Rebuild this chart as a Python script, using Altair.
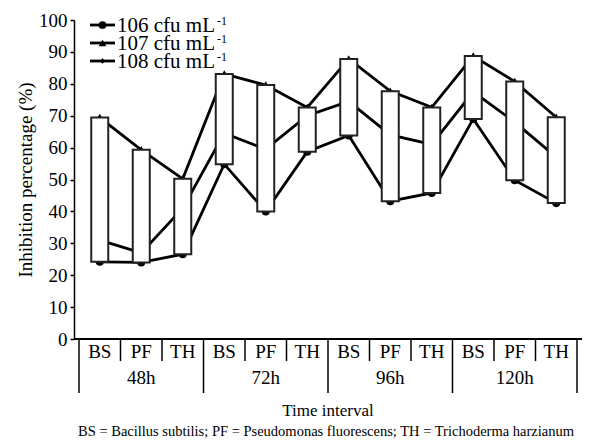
import altair as alt
import pandas as pd

# ---- data ----
agents = ["BS", "PF", "TH"] * 4
times = ["48h", "72h", "96h", "120h"]
series_names = ["106 cfu mL", "107 cfu mL", "108 cfu mL"]
s106 = [24.2, 24.0, 26.6, 54.8, 40.0, 58.7, 63.8, 43.2, 45.8, 69.0, 49.8, 42.6]   # bottom, circle
s107 = [69.4, 59.3, 50.2, 83.1, 79.6, 72.6, 87.8, 77.7, 72.6, 88.7, 80.7, 69.5]   # top, triangle
s108 = [31.0, 27.0, 41.0, 64.5, 59.5, 70.0, 74.5, 64.0, 61.0, 77.5, 68.0, 57.0]   # middle
y_ticks = [0, 10, 20, 30, 40, 50, 60, 70, 80, 90, 100]

FONT = "Liberation Serif"
W, H = 508, 319

idx = list(range(len(agents)))
df = pd.DataFrame({"idx": idx, "agent": agents,
                   "s106": s106, "s107": s107, "s108": s108})
long = pd.concat([
    pd.DataFrame({"idx": idx, "v": s106, "series": series_names[0]}),
    pd.DataFrame({"idx": idx, "v": s107, "series": series_names[1]}),
    pd.DataFrame({"idx": idx, "v": s108, "series": series_names[2]}),
])

xs = alt.Scale(domain=[-0.5, len(agents) - 0.5], nice=False, zero=False)
ys = alt.Scale(domain=[0, 100], nice=False)
X = alt.X("idx:Q", scale=xs, axis=None)
YAX = alt.Axis(values=y_ticks, title="Inhibition percentage (%)",
               grid=False, domainColor="black", tickColor="black",
               domainWidth=1.5, tickWidth=1.5,
               tickSize=4, labelFont=FONT, labelFontSize=19,
               labelColor="black", labelPadding=3, labelOverlap=False,
               labelFlush=False,
               titleFont=FONT, titleFontSize=19, titleFontWeight="normal",
               titleColor="black", titlePadding=3)

base = alt.Chart(df)

lines = alt.Chart(long).mark_line(color="black", strokeWidth=2.8).encode(
    x=X, y=alt.Y("v:Q", scale=ys, axis=YAX), detail="series:N")

pts_circle = base.mark_point(filled=True, shape="circle", size=65, color="black", opacity=1).encode(
    x=X, y=alt.Y("s106:Q", scale=ys, axis=YAX))
pts_tri = base.mark_point(filled=True, shape="triangle-up", size=75, color="black", opacity=1).encode(
    x=X, y=alt.Y("s107:Q", scale=ys, axis=YAX))

boxes = base.mark_bar(width=17, fill="white", stroke="#222222", strokeWidth=2).encode(
    x=X, y=alt.Y("s106:Q", scale=ys, axis=YAX), y2="s107:Q")

# ---- tabular x axis ----
xaxis_line = base.mark_rule(color="black", strokeWidth=1.5).encode(
    x=alt.value(0), x2=alt.value(W), y=alt.value(H))

sep_df = pd.DataFrame({"pos": [i - 0.5 for i in range(len(agents) + 1)],
                       "major": [(i % 3 == 0) for i in range(len(agents) + 1)]})
short_sep = alt.Chart(sep_df[~sep_df.major]).mark_rule(color="black", strokeWidth=1.5).encode(
    x=alt.X("pos:Q", scale=xs, axis=None), y=alt.value(H), y2=alt.value(H + 22))
long_sep = alt.Chart(sep_df[sep_df.major]).mark_rule(color="black", strokeWidth=1.5).encode(
    x=alt.X("pos:Q", scale=xs, axis=None), y=alt.value(H), y2=alt.value(H + 54))

agent_txt = base.mark_text(font=FONT, fontSize=19, color="black", baseline="middle").encode(
    x=X, y=alt.value(H + 13), text="agent:N")

grp_df = pd.DataFrame({"gx": [1, 4, 7, 10], "t": times})
grp_txt = alt.Chart(grp_df).mark_text(font=FONT, fontSize=19, color="black", baseline="middle").encode(
    x=alt.X("gx:Q", scale=xs, axis=None), y=alt.value(H + 39), text="t:N")

xtitle = alt.Chart(pd.DataFrame({"t": ["Time interval"]})).mark_text(
    font=FONT, fontSize=17, fontWeight="normal", color="black", baseline="middle").encode(
    x=alt.value(W / 2), y=alt.value(H + 72), text="t:N")

foot = alt.Chart(pd.DataFrame({"t": ["BS = Bacillus subtilis; PF = Pseudomonas fluorescens; TH = Trichoderma harzianum"]})).mark_text(
    font=FONT, fontSize=14.5, color="black", baseline="middle").encode(
    x=alt.value(W / 2 - 2), y=alt.value(H + 93), text="t:N")

# ---- manual legend ----
leg_layers = []
leg_shapes = ["circle", "triangle-up", "diamond"]
leg_sizes = [60, 60, 30]
for i, name in enumerate(series_names):
    yy = 5 + 18 * i
    ld = pd.DataFrame({"t": [name], "s": ["-1"]})
    lc = alt.Chart(ld)
    leg_layers.append(lc.mark_rule(color="black", strokeWidth=2.8).encode(
        x=alt.value(16), x2=alt.value(41), y=alt.value(yy)))
    leg_layers.append(lc.mark_point(filled=True, shape=leg_shapes[i], size=leg_sizes[i],
                                    color="black", opacity=1).encode(
        x=alt.value(28.5), y=alt.value(yy)))
    leg_layers.append(lc.mark_text(font=FONT, fontSize=21, color="black", align="left",
                                   baseline="middle").encode(
        x=alt.value(43), y=alt.value(yy + 1), text="t:N"))
    leg_layers.append(lc.mark_text(font=FONT, fontSize=12, color="black", align="left",
                                   baseline="middle").encode(
        x=alt.value(143), y=alt.value(yy - 4), text="s:N"))

chart = alt.layer(
    lines, pts_circle, pts_tri, boxes,
    xaxis_line, short_sep, long_sep, agent_txt, grp_txt, xtitle, foot,
    *leg_layers
).properties(
    width=W, height=H,
    autosize=alt.AutoSizeParams(type="none"),
    padding={"left": 66, "top": 12, "right": 0, "bottom": 105},
).configure(font=FONT).configure_view(stroke=None).configure_text(font=FONT)

chart.save("out.html", embed_options={"renderer": "svg", "actions": False})
